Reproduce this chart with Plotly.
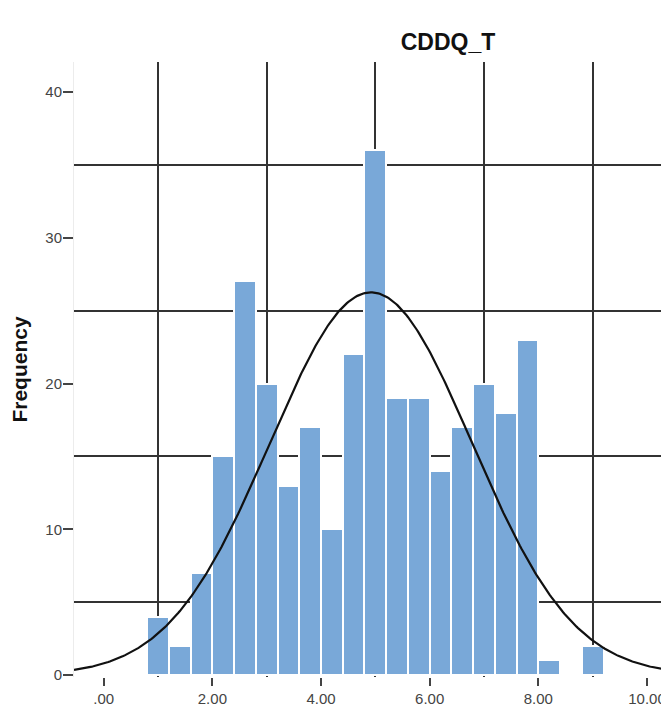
import numpy as np
import plotly.graph_objects as go

# ---- data ----
bin_left_edges = [0.8, 1.2, 1.6, 2.0, 2.4, 2.8, 3.2, 3.6, 4.0, 4.4, 4.8,
                  5.2, 5.6, 6.0, 6.4, 6.8, 7.2, 7.6, 8.0, 8.4, 8.8]
frequencies = [4, 2, 7, 15, 27, 20, 13, 17, 10, 22, 36,
               19, 19, 14, 17, 20, 18, 23, 1, 0, 2]
bin_width = 0.4
x_tick_values = [0, 2, 4, 6, 8, 10]
x_tick_labels = [".00", "2.00", "4.00", "6.00", "8.00", "10.00"]
y_tick_values = [0, 10, 20, 30, 40]
normal_mean = 4.92
normal_sd = 1.86
title_text = "CDDQ_T"
y_title = "Frequency"

# ---- derived ----
centers = [e + bin_width / 2 for e in bin_left_edges]
n_total = sum(frequencies)
x_range = [-0.547, 10.405]
xc = np.linspace(x_range[0], x_range[1], 400)
yc = n_total * bin_width / (normal_sd * np.sqrt(2 * np.pi)) * np.exp(
    -0.5 * ((xc - normal_mean) / normal_sd) ** 2)

W, H = 661, 703  # page body adds an 8px offset

fig = go.Figure()
fig.add_trace(go.Bar(
    x=centers, y=frequencies, width=bin_width,
    marker=dict(color="#79a8d8", line=dict(color="white", width=2)),
    hoverinfo="x+y", showlegend=False))
fig.add_trace(go.Scatter(
    x=xc, y=yc, mode="lines", line=dict(color="#111111", width=2.2),
    hoverinfo="skip", showlegend=False))

fig.update_layout(
    width=W, height=H,
    margin=dict(l=66, r=0, t=54, b=34),
    paper_bgcolor="white", plot_bgcolor="white",
    bargap=0,
    font=dict(family="Liberation Sans, Arial, sans-serif", color="#444444"),
    title=dict(text="<b>" + title_text + "</b>", x=440 / W, xref="container",
               xanchor="center", y=1 - 34 / H, yref="container",
               yanchor="middle",
               font=dict(size=23, color="#111111",
                         family="Liberation Sans, Arial, sans-serif")),
)

fig.update_xaxes(
    range=x_range, tickvals=x_tick_values, ticktext=x_tick_labels,
    showgrid=False, zeroline=False, showline=False,
    ticks="outside", ticklen=8, tickwidth=2, tickcolor="#444444",
    tickfont=dict(size=15, color="#444444"),
    minor=dict(tick0=1, dtick=2, showgrid=True, gridcolor="#333333",
               gridwidth=1.5, ticks=""),
)
fig.update_yaxes(
    range=[-0.137, 42.06], tickvals=y_tick_values,
    showgrid=False, zeroline=False,
    showline=True, linecolor="#ececec", linewidth=1,
    ticks="outside", ticklen=10, tickwidth=2, tickcolor="#444444",
    ticklabelstandoff=-2,
    tickfont=dict(size=15, color="#444444"),
    minor=dict(tick0=5, dtick=10, showgrid=True, gridcolor="#333333",
               gridwidth=1.5, ticks=""),
    title=dict(text="<b>" + y_title + "</b>", standoff=16,
               font=dict(size=21, color="#111111")),
)

fig.write_html("out.html")
